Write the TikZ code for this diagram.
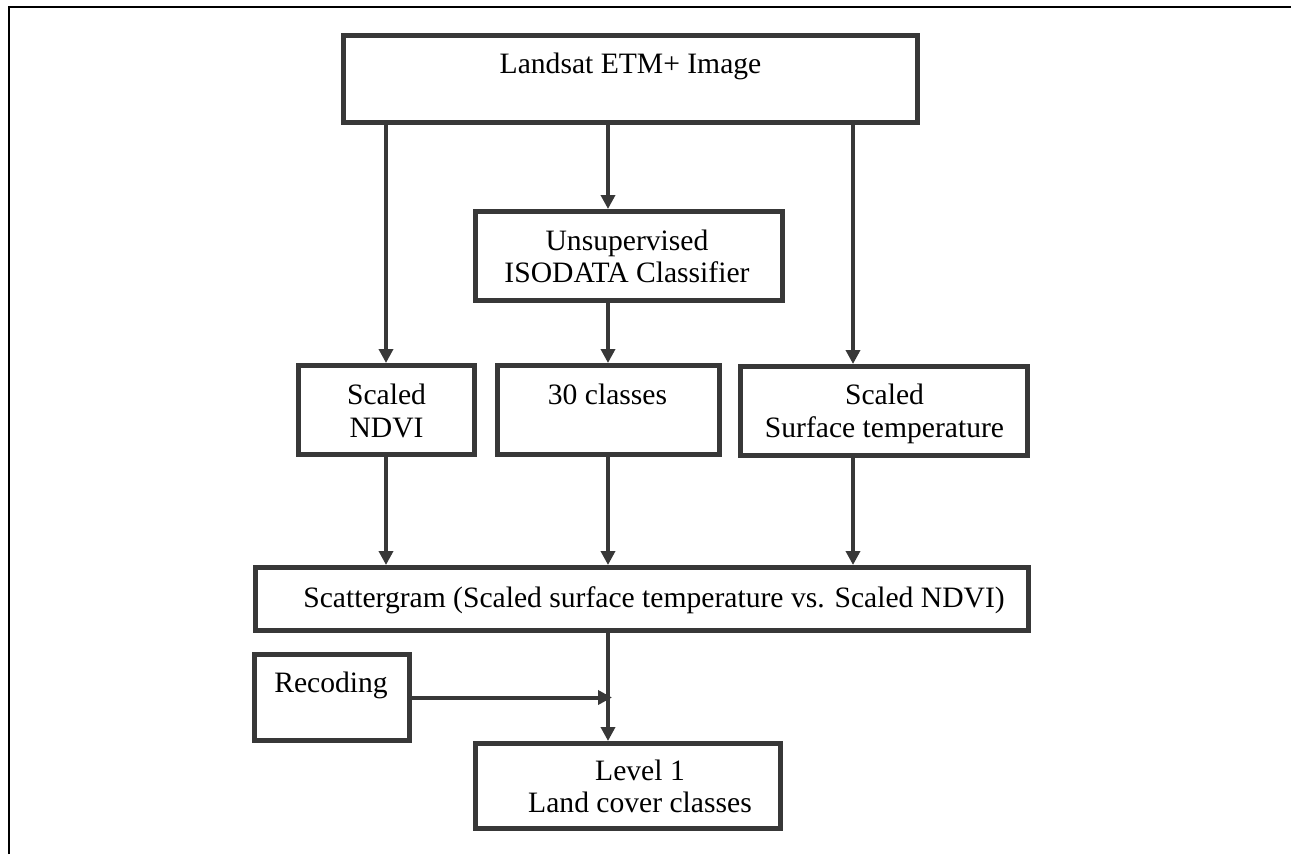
\documentclass[tikz,border=0pt]{standalone}
\usepackage{fontspec}
\setmainfont{Liberation Serif}
\usetikzlibrary{arrows.meta}
\definecolor{ink}{HTML}{383838}
\tikzset{
  stepbox/.style={draw=ink, line width=3.75pt, inner sep=0pt},
  lbl/.style={inner sep=0pt, anchor=base, font=\fontsize{22.2}{24}\selectfont},
  flow/.style={draw=ink, line width=3pt, -{Triangle[length=10.5pt,width=10.5pt]}},
  frame/.style={draw=black, line width=1.6pt}
}
\begin{document}
\begin{tikzpicture}[x=0.75pt, y=-0.75pt]
\useasboundingbox (0,0) rectangle (1291,854);
% page frame (open at right and bottom)
\draw[frame] (9,854) -- (9,7) -- (1291,7);

% boxes (sizes in px, line centred on the outline)
\node[stepbox, minimum width=574*0.75pt, minimum height=87*0.75pt] (img) at (630.5,79) {};
\node[stepbox, minimum width=307*0.75pt, minimum height=89*0.75pt] (uns) at (629,256) {};
\node[stepbox, minimum width=176*0.75pt, minimum height=89*0.75pt] (ndvi) at (386.5,410) {};
\node[stepbox, minimum width=222*0.75pt, minimum height=89*0.75pt] (cls) at (608.5,410) {};
\node[stepbox, minimum width=287*0.75pt, minimum height=89*0.75pt] (temp) at (884,411) {};
\node[stepbox, minimum width=773*0.75pt, minimum height=63*0.75pt] (scat) at (642,599) {};
\node[stepbox, minimum width=155*0.75pt, minimum height=86*0.75pt] (rec) at (332,697.5) {};
\node[stepbox, minimum width=305*0.75pt, minimum height=85*0.75pt] (lev) at (628,786) {};

% labels, one per line, on their baselines
\node[lbl] (timg) at (630.5,73) {Landsat ETM+ Image};
\node[lbl] (tuns1) at (627,250) {Unsupervised};
\node[lbl] (tuns2) at (627,282) {ISODATA Classifier};
\node[lbl] (tndvi1) at (386.5,404) {Scaled};
\node[lbl] (tndvi2) at (386.5,437) {NDVI};
\node[lbl] (tcls) at (607.5,404) {30 classes};
\node[lbl] (ttemp1) at (884.5,404) {Scaled};
\node[lbl] (ttemp2) at (884.5,437) {Surface temperature};
\node[lbl] (tscat) at (654,607) {Scattergram (Scaled surface temperature vs. Scaled NDVI)};
\node[lbl] (trec) at (331,692) {Recoding};
\node[lbl] (tlev1) at (640,780) {Level 1};
\node[lbl] (tlev2) at (640,812) {Land cover classes};

% connector columns
\coordinate (colL) at (386,0);
\coordinate (colM) at (608,0);
\coordinate (colR) at (853,0);

% connectors
\draw[flow] (img.south -| colL) -- (ndvi.north -| colL);
\draw[flow] (img.south -| colM) -- (uns.north -| colM);
\draw[flow] (img.south -| colR) -- (temp.north -| colR);
\draw[flow] (uns.south -| colM) -- (cls.north -| colM);
\draw[flow] (ndvi.south -| colL) -- (scat.north -| colL);
\draw[flow] (cls.south -| colM) -- (scat.north -| colM);
\draw[flow] (temp.south -| colR) -- (scat.north -| colR);
\draw[flow] (scat.south -| colM) -- (lev.north -| colM);
\draw[flow] (rec.east) -- ([xshift=3pt]rec.east -| colM);
\end{tikzpicture}
\end{document}
